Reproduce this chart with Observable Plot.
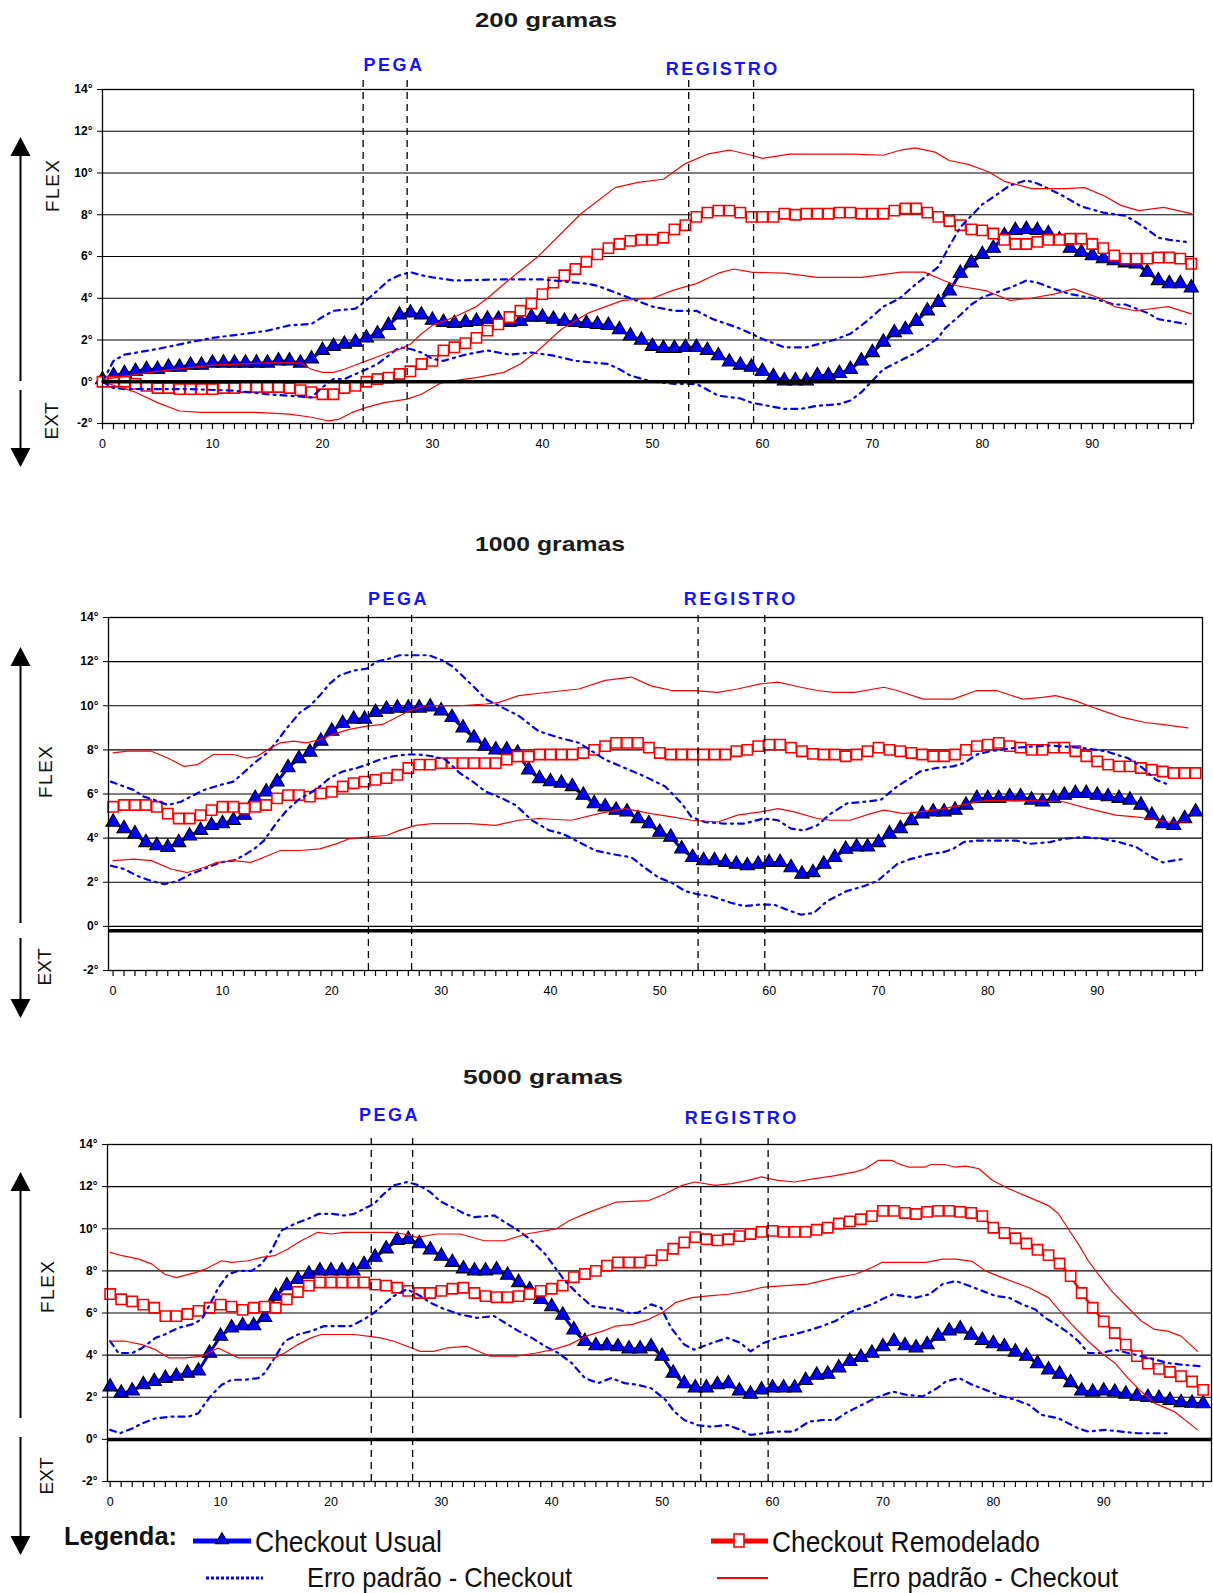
<!DOCTYPE html>
<html>
<head>
<meta charset="utf-8">
<script src="https://cdn.jsdelivr.net/npm/d3@7"></script>
<script src="https://cdn.jsdelivr.net/npm/@observablehq/plot@0.6"></script>
<style>
  html, body { margin: 0; padding: 0; background: #fff; }
  #wrap { position: relative; width: 1213px; height: 1593px; overflow: hidden; background: #fff;
          font-family: Arial, "Liberation Sans", sans-serif; }
  #wrap > svg { position: absolute; left: 0; }
</style>
</head>
<body>
<div id="wrap"></div>
<script>
// ---------------- DATA ----------------
const percentCycle = d3.range(0, 100);            // % do ciclo (categorias 0..99)
const yTicks = [-2, 0, 2, 4, 6, 8, 10, 12, 14];
const xLabelTicks = [0, 10, 20, 30, 40, 50, 60, 70, 80, 90];
const panelTitles = ["200 gramas", "1000 gramas", "5000 gramas"];
const eventNames = ["PEGA", "REGISTRO"];
const legendLabels = ["Checkout Usual", "Checkout Remodelado", "Erro padrão - Checkout", "Erro padrão - Checkout"];

// ---- 200 gramas ----
const usual200 = [0.1,0.3,0.4,0.5,0.6,0.6,0.7,0.7,0.8,0.8, 0.9,0.9,0.9,0.9,0.9,0.9,1.0,1.0,0.9,1.1,
  1.5,1.7,1.8,1.9,2.1,2.3,2.7,3.2,3.3,3.2, 2.95,2.85,2.8,2.85,2.9,3.0,3.0,2.85,2.9,3.1,
  3.1,3.0,2.9,2.85,2.8,2.75,2.7,2.5,2.2,2.0, 1.7,1.6,1.6,1.65,1.65,1.5,1.25,0.95,0.8,0.7,
  0.5,0.25,0.05,0.05,0.05,0.3,0.3,0.4,0.6,1.0, 1.4,1.9,2.35,2.5,2.9,3.4,3.8,4.35,5.2,5.7,
  6.1,6.4,7.0,7.25,7.3,7.25,7.1,6.8,6.4,6.2, 6.05,5.9,5.8,5.7,5.65,5.25,4.85,4.7,4.7,4.5];
const remod200 = [0.0,0.0,0.0,-0.1,-0.2,-0.3,-0.3,-0.35,-0.35,-0.35, -0.35,-0.3,-0.3,-0.25,-0.25,-0.25,-0.25,-0.3,-0.4,-0.5,
  -0.6,-0.6,-0.3,-0.2,0.0,0.13,0.2,0.37,0.5,0.85, 1.0,1.5,1.65,1.85,2.1,2.45,2.75,3.1,3.4,3.75,
  4.2,4.75,5.1,5.4,5.75,6.1,6.4,6.6,6.75,6.8, 6.8,6.9,7.3,7.5,7.9,8.1,8.2,8.2,8.1,7.9,
  7.9,7.9,8.05,8.0,8.05,8.05,8.05,8.1,8.1,8.05, 8.05,8.05,8.2,8.3,8.3,8.1,7.9,7.7,7.5,7.3,
  7.25,7.1,6.8,6.6,6.6,6.7,6.8,6.8,6.85,6.85, 6.6,6.4,6.05,5.9,5.9,5.9,5.95,5.95,5.9,5.65];
const usualHi200X = [0,1,2,5,8,10,13,15,17,19,20,21,23,24,25,26,27,28,29,30,32,36,40,44,45,47,48,50,52,54,55.5,57.7,59,60,62,64,66.5,68,69.5,71,72.5,74,76,77,78,80,81,82.5,84,85,87,88,89,91,93,94,95,96,97,98.5];
const usualHi200Y = [0,1.0,1.3,1.57,1.9,2.1,2.3,2.45,2.7,2.77,3.1,3.4,3.5,3.9,4.37,4.85,5.1,5.25,5.1,5.0,4.85,4.9,4.9,4.7,4.6,4.2,4.0,3.6,3.4,3.4,3.0,2.6,2.3,2.05,1.65,1.65,2.0,2.3,2.9,3.6,4.0,4.7,5.5,6.5,7.4,8.5,8.85,9.4,9.65,9.5,9.0,8.7,8.4,8.1,7.95,7.65,7.3,6.9,6.8,6.7];
const usualLo200X = [0,1,2,5,8,12,15,17,19,20,21,22,23,24,25,26,27,28,29,30,31,33,35,37,39,41,43,46,47,48,50,52,54,56,58,59,60.5,62,63.5,65,67,68,69,70,71,72.5,74,75,76,76.5,78,79,80,82.5,84,85,86.5,88,90,92,93,95,96,98.5];
const usualLo200Y = [0,-0.3,-0.35,-0.35,-0.35,-0.43,-0.6,-0.67,-0.75,-0.27,0.13,0.13,0.37,0.6,0.85,1.25,1.65,1.57,1.4,1.1,1.0,1.3,1.5,1.3,1.4,1.25,1.0,0.85,0.6,0.3,0.0,-0.1,-0.1,-0.67,-0.8,-1.0,-1.15,-1.3,-1.3,-1.15,-1.07,-0.9,-0.5,0.05,0.6,1.0,1.4,1.73,2.1,2.5,3.2,3.7,4.05,4.5,4.85,4.75,4.45,4.2,4.0,3.7,3.7,3.3,3.0,2.77];
const remodHi200X = [0,5,10,15,18,19,20,21,22,23,24,25,26,27,28,29,30,32,34,35,37,39.6,43.5,46.6,48.7,51,53,55,57,59,60,62.5,65,68.3,71,72.6,73.9,75.7,77,78.8,80.6,82,84.5,87.5,89.3,91.1,92.6,94.2,96.5,99];
const remodHi200Y = [0.1,0.5,0.8,0.9,0.9,0.6,0.45,0.45,0.6,0.8,1.0,1.2,1.4,1.55,1.8,2.3,2.7,3.1,3.6,4.0,4.9,6.0,8.05,9.3,9.55,9.7,10.45,10.9,11.1,10.85,10.7,10.9,10.9,10.9,10.85,11.1,11.2,11.0,10.6,10.4,10.05,9.6,9.25,9.25,9.3,8.9,8.45,8.2,8.35,8.05];
const remodLo200X = [0,3,5,7,9,14,17,19,20.5,21.5,22.7,24,25.6,27.7,29,30.8,32.6,34,36.5,38,39.6,41.7,44.2,47.3,50,52,54,56,57.4,59,62,65,69,72.6,74.7,76.5,77.7,80.4,82.5,84.4,86.5,88.3,90.7,92,93.9,96.9,99];
const remodLo200Y = [0,-0.5,-1.0,-1.4,-1.47,-1.47,-1.55,-1.7,-1.87,-1.8,-1.47,-1.23,-1.0,-0.83,-0.6,-0.05,0.1,0.2,0.45,0.85,1.5,2.5,3.3,3.9,4.0,4.4,4.7,5.2,5.4,5.25,5.2,5.0,5.0,5.25,5.25,4.85,4.6,4.35,3.9,4.0,4.2,4.45,4.0,3.6,3.4,3.6,3.25];
const events200 = [23.7, 27.7, 53.3, 59.2];

// ---- 1000 gramas ----
const usual1000 = [4.73,4.43,4.2,3.8,3.66,3.58,3.8,4.1,4.35,4.58, 4.66,4.81,5.04,5.8,6.1,6.55,7.2,7.6,7.9,8.4,
  8.85,9.2,9.4,9.4,9.7,9.85,9.9,9.9,9.9,9.95, 9.77,9.47,9.0,8.55,8.17,8.0,8.0,7.86,7.1,6.7,
  6.56,6.49,6.34,5.95,5.57,5.42,5.27,5.19,4.89,4.66, 4.27,4.05,3.51,3.13,2.98,2.98,2.9,2.82,2.75,2.82,
  2.9,2.9,2.67,2.37,2.44,2.82,3.13,3.5,3.6,3.6, 3.8,4.2,4.43,4.8,5.1,5.19,5.19,5.27,5.5,5.8,
  5.8,5.8,5.88,5.88,5.73,5.65,5.8,5.95,6.03,6.03, 5.95,5.88,5.8,5.73,5.5,5.04,4.66,4.58,4.89,5.19];
const remod1000 = [5.42,5.5,5.5,5.5,5.42,5.11,4.89,4.89,5.04,5.27, 5.42,5.42,5.34,5.42,5.5,5.8,5.95,5.95,5.88,6.03,
  6.1,6.34,6.49,6.56,6.64,6.72,6.87,7.18,7.33,7.33, 7.4,7.4,7.4,7.4,7.4,7.4,7.56,7.7,7.7,7.79,
  7.79,7.79,7.79,7.86,8.0,8.17,8.32,8.32,8.32,8.1, 7.86,7.79,7.79,7.79,7.79,7.79,7.79,7.94,8.0,8.17,
  8.24,8.24,8.1,7.94,7.82,7.79,7.79,7.71,7.79,7.94, 8.1,8.0,7.94,7.86,7.79,7.71,7.71,7.79,8.0,8.17,
  8.24,8.32,8.17,8.1,8.0,8.0,8.1,8.1,7.94,7.71, 7.48,7.33,7.25,7.25,7.18,7.1,7.02,6.95,6.95,6.95];
const usualHi1000X = [-0.2,1.0,1.9,2.8,3.8,5.0,6.2,7.1,8.3,9.8,11.0,11.9,12.9,14.1,15.0,15.9,17.1,18.0,18.9,19.8,20.7,22.0,23.2,24.1,25.3,26.2,27.7,28.9,30.1,31.1,32.9,34.1,35.6,37.1,38.9,40.8,42.6,43.8,45.0,46.8,48.6,50.5,52.0,52.9,54.1,55.9,57.7,59.5,60.8,62.0,63.2,64.4,65.6,67.1,68.7,70.2,71.7,72.9,73.8,75.3,76.8,77.8,79.0,80.2,82.6,85.6,88.7,89.9,90.8,91.7,92.8,94.1,95.4,96.6];
const usualHi1000Y = [6.56,6.34,6.18,5.88,5.73,5.5,5.65,5.88,6.18,6.41,6.56,6.95,7.4,7.86,8.4,9.0,9.7,10.0,10.46,11.0,11.37,11.6,11.68,12.0,12.14,12.29,12.29,12.29,12.06,11.76,10.9,10.3,9.92,9.54,8.85,8.55,8.32,7.94,7.56,7.18,6.8,6.34,5.57,4.96,4.73,4.66,4.66,4.89,4.81,4.43,4.35,4.58,5.1,5.57,5.65,5.73,6.34,6.72,7.02,7.18,7.25,7.4,7.79,7.94,8.1,8.2,8.09,8.0,7.94,7.79,7.63,7.2,6.64,6.41];
const usualLo1000X = [-0.2,1.0,2.2,3.5,4.7,5.9,7.1,8.3,9.8,11.0,11.9,12.9,13.8,15.0,15.9,17.1,18.0,18.9,19.8,21.0,22.3,23.2,24.4,25.6,26.8,28.0,29.2,30.4,31.7,32.9,34.1,35.6,36.8,38.3,39.9,41.1,42.6,44.1,45.6,47.4,48.6,49.9,51.1,52.3,53.5,54.7,56.5,57.7,59.2,60.4,61.6,62.9,64.1,65.3,65.9,67.1,68.7,69.9,70.8,71.7,72.9,74.7,75.9,76.8,77.8,79.0,80.8,82.6,83.8,85.7,86.9,88.7,90.5,92.0,93.6,94.8,96.0,97.8];
const usualLo1000Y = [2.75,2.6,2.29,2.06,1.91,2.06,2.37,2.6,2.9,2.98,3.2,3.51,3.89,4.73,5.27,5.8,6.03,6.34,6.72,7.02,7.18,7.33,7.56,7.71,7.79,7.79,7.71,7.56,6.95,6.56,6.1,5.8,5.5,4.81,4.35,4.2,3.82,3.44,3.28,3.13,2.67,2.21,1.98,1.6,1.45,1.37,1.07,0.92,0.99,0.99,0.76,0.53,0.61,1.15,1.3,1.6,1.83,2.06,2.44,2.82,3.05,3.28,3.36,3.51,3.82,3.89,3.89,3.89,3.74,3.82,3.97,4.05,3.97,3.82,3.59,3.2,2.9,3.05];
const remodHi1000X = [0.0,1.3,3.5,5.0,6.5,7.7,9.2,11.0,12.2,13.2,14.1,15.3,16.5,17.7,18.9,20.1,21.6,23.2,24.7,25.9,27.1,28.6,31.6,34.1,35.3,37.1,39.6,42.6,45.0,47.4,49.2,51.1,53.2,55.3,57.1,59.2,60.8,62.9,64.4,65.9,67.8,70.5,71.7,74.1,76.8,79.0,80.8,83.2,85.0,86.2,88.0,89.2,91.0,92.3,94.4,95.9,98.3];
const remodHi1000Y = [7.86,7.94,7.94,7.63,7.25,7.33,7.79,7.79,7.63,7.71,8.0,8.32,8.4,8.32,8.47,8.7,8.93,9.08,9.16,9.47,9.77,10.0,10.0,10.08,10.15,10.46,10.6,10.76,11.15,11.3,10.9,10.69,10.69,10.61,10.76,10.99,11.07,10.84,10.69,10.61,10.61,10.84,10.69,10.3,10.3,10.69,10.69,10.3,10.38,10.46,10.23,10.0,9.69,9.47,9.24,9.16,9.0];
const remodLo1000X = [0.0,1.9,3.5,5.3,6.8,8.3,9.5,11.0,12.6,13.8,15.3,17.1,18.9,20.4,21.6,23.2,25.0,26.2,27.7,29.2,32.6,35.0,37.1,38.9,41.9,44.4,46.8,49.2,51.1,52.9,55.3,57.1,59.2,60.8,62.3,64.4,65.6,67.4,69.3,70.5,72.3,75.6,79.6,83.6,86.9,89.2,91.7,93.5,94.7,96.5,98.3];
const remodLo1000Y = [2.98,3.05,2.98,2.6,2.44,2.67,2.9,2.98,2.9,3.13,3.44,3.44,3.51,3.74,3.97,4.05,4.12,4.35,4.58,4.66,4.66,4.58,4.81,4.89,4.81,5.11,5.34,5.11,4.96,4.81,4.73,5.04,5.19,5.34,5.19,4.89,4.81,4.81,5.11,5.27,5.11,5.3,5.7,5.7,5.65,5.34,5.04,4.96,4.89,4.73,4.73];
const events1000 = [23.35, 27.3, 53.5, 59.6];

// ---- 5000 gramas ----
const usual5000 = [2.5,2.2,2.3,2.6,2.75,2.9,3.0,3.15,3.25,4.1, 4.9,5.3,5.4,5.4,5.8,6.8,7.3,7.6,7.85,8.0,
  8.0,8.0,8.0,8.3,8.65,9.05,9.45,9.5,9.3,9.0, 8.7,8.4,8.1,8.0,8.0,8.05,7.8,7.45,7.1,6.65,
  6.3,5.9,5.2,4.65,4.45,4.45,4.4,4.3,4.3,4.4, 3.95,3.15,2.65,2.45,2.45,2.6,2.65,2.3,2.15,2.35,
  2.45,2.45,2.45,2.8,3.05,3.1,3.4,3.7,3.9,4.1, 4.4,4.65,4.45,4.35,4.5,4.9,5.15,5.25,4.95,4.7,
  4.55,4.4,4.15,3.95,3.6,3.3,3.1,2.7,2.3,2.25, 2.3,2.25,2.15,2.05,2.0,1.95,1.85,1.75,1.72,1.7];
const remod5000 = [6.9,6.65,6.55,6.4,6.25,5.85,5.85,5.95,6.1,6.25, 6.4,6.3,6.15,6.25,6.3,6.25,6.65,7.0,7.3,7.45,
  7.45,7.45,7.45,7.45,7.35,7.3,7.2,7.05,6.95,6.95, 7.05,7.15,7.2,6.95,6.8,6.75,6.75,6.8,6.9,7.05,
  7.15,7.3,7.7,7.85,8.0,8.25,8.4,8.4,8.4,8.5, 8.75,9.05,9.35,9.6,9.5,9.45,9.5,9.65,9.75,9.85,
  9.9,9.85,9.85,9.85,9.95,10.05,10.25,10.35,10.45,10.6, 10.85,10.85,10.75,10.7,10.8,10.85,10.85,10.8,10.75,10.6,
  10.05,9.8,9.55,9.3,9.0,8.75,8.35,7.75,6.95,6.25, 5.6,5.05,4.5,3.95,3.6,3.35,3.2,3.0,2.75,2.35];
const usualHi5000X = [0,0.75,2,2.9,4.1,4.95,6.2,7.4,8.3,9.2,9.8,10.7,11.6,12.8,13.7,14.6,15.5,16.7,17.9,18.9,20,21.2,22.1,23,23.9,24.8,25.7,26.9,28,29,29.9,31,32.1,33,34.8,36,37,38.2,39.4,40.3,41.2,42.4,43.6,44.8,46,46.9,47.8,49,49.9,50.8,52,52.9,54.1,55.9,57.1,58,59.2,60.4,61.9,63.3,64.5,65.7,66.9,68.1,69,69.9,70.9,71.8,73,74.2,75.4,76.6,77.8,79,80.2,81.4,82.6,83.8,84.7,85.9,86.8,87.7,88.6,89.8,91,92.2,93.4,94.6,95.8,97,98.8];
const usualHi5000Y = [4.66,4.1,4.1,4.34,4.82,4.98,5.3,5.46,5.7,6.57,7.2,7.84,8.0,8.0,8.32,8.95,9.91,10.23,10.47,10.71,10.71,10.63,10.71,10.95,11.18,11.66,12.06,12.22,12.06,11.74,11.3,11.02,10.71,10.55,10.63,10.23,9.91,9.43,8.8,8.16,7.52,6.89,6.33,6.25,6.17,6.01,6.01,6.41,6.25,5.3,4.5,4.26,4.5,4.82,4.58,4.18,4.58,4.82,4.98,5.18,5.38,5.62,6.01,6.25,6.41,6.65,6.89,6.81,6.73,6.89,7.37,7.52,7.29,7.05,6.81,6.73,6.41,6.17,5.77,5.38,5.06,4.66,4.1,4.1,4.26,4.1,3.95,3.79,3.63,3.55,3.47];
const usualLo5000X = [0,0.9,2,2.9,4.1,5.6,7.1,8,8.4,9.2,10.1,11,12.2,13.4,14,14.9,15.8,17,18.2,19.4,20.6,21.8,23,23.9,24.8,25.7,26.9,28.1,29,30.2,31.7,33.2,34.8,36,37,38.2,39.4,40.6,41.8,43,44.2,45.4,46.6,47.8,49,50.3,51.1,52,53.2,54.4,55.9,57.1,58,59.2,60.4,61.9,63.3,64.5,65.7,66.6,67.8,69.3,70.9,72.1,73.6,74.9,75.7,76.9,78.1,79.3,80.8,82,83.2,84.4,85.9,86.8,87.7,88.6,90.1,91.6,93.1,94.6,96];
const usualLo5000Y = [0.45,0.29,0.52,0.76,1.0,1.08,1.08,1.24,1.56,2.12,2.59,2.83,2.83,2.91,3.15,3.87,4.66,4.98,5.14,5.38,5.38,5.38,5.7,6.01,6.41,6.81,7.13,6.81,6.49,6.2,5.93,5.77,5.85,5.46,5.14,4.82,4.42,4.1,3.63,2.91,2.67,2.91,2.67,2.59,2.43,1.88,1.32,0.92,0.68,0.6,0.68,0.45,0.21,0.29,0.37,0.37,0.84,0.92,0.92,1.24,1.56,1.96,2.27,2.12,2.04,2.43,2.75,2.91,2.59,2.35,2.04,1.88,1.64,1.16,1.0,0.76,0.52,0.37,0.45,0.37,0.29,0.29,0.29];
const remodHi5000X = [0,1.1,2.6,3.8,4.95,6,7.7,8.6,10.1,11,12.5,13.7,14.9,16.1,17.3,18.8,20,21.2,23,25.4,26.6,27.8,29.6,31.7,33.9,35.7,37.7,40.4,41.6,43.4,45.8,48.8,50.3,51.8,53,54.8,56.3,57.8,59,60.5,62,63.8,65.4,67.5,68.4,69.6,70.8,71.4,72.3,73.8,74.4,75.6,76.5,77.5,78.7,79.9,81.4,83.2,85,85.9,86.8,87.7,88.6,89.5,90.7,92.2,93.4,94.6,95.8,97,98.5];
const remodHi5000Y = [8.88,8.72,8.56,8.32,7.84,7.68,7.92,8.08,8.48,8.4,8.48,8.64,8.72,9.04,9.43,9.83,9.75,9.83,9.83,9.83,9.75,9.59,9.75,9.75,9.43,9.43,9.75,9.99,10.39,10.79,11.26,11.34,11.66,12.06,12.22,12.06,12.14,12.3,12.46,12.3,12.22,12.38,12.5,12.7,12.85,13.25,13.25,13.09,12.93,12.93,13.05,13.05,12.93,12.97,12.85,12.3,11.9,11.5,11.1,10.71,9.99,9.27,8.48,7.84,7.05,6.25,5.62,5.22,5.14,4.9,4.18];
const remodLo5000X = [0,1.4,2.9,4.1,5.3,6.8,8.3,9.8,10.7,11.6,13.4,14.9,15.8,17,18.2,19.1,20.6,22.1,23.3,24.5,25.7,26.9,28.1,29.3,30.5,32.3,34.4,36.8,38.6,40.1,41.6,43.1,44.6,45.8,47.3,48.8,50,51.2,52.7,54.2,56,57.8,59,60.8,63.2,65.7,67.5,69,69.9,72.1,73.9,75.4,76.6,78.1,79.3,80.8,83.2,85,85.9,87.1,88.6,89.8,91,92.2,93.4,94.6,96.4,98.5];
const remodLo5000Y = [4.66,4.66,4.5,4.26,3.87,3.87,3.95,4.34,4.1,3.87,3.87,3.87,4.1,4.5,4.82,4.98,4.98,4.98,4.9,4.82,4.66,4.42,4.18,4.18,4.34,4.42,3.95,3.95,4.1,4.26,4.5,4.9,5.14,5.38,5.46,5.7,6.01,6.49,6.73,6.81,6.89,7.05,7.21,7.29,7.37,7.68,7.84,8.16,8.4,8.4,8.4,8.56,8.56,8.45,8.0,7.68,7.21,6.73,6.17,5.46,4.66,4.1,3.63,2.91,2.27,1.72,1.32,0.45];
const events5000 = [23.65, 27.4, 53.5, 59.6];

// baseline (linha 0° espessa) por painel
const baselines = [0, -0.2, 0];

// ---------------- LAYOUT (positions / styles) ----------------
const layouts = [
  {top: 0,    height: 473, mt: 89,  mb: 50, ml: 102, mr: 20, xDomain: [0, 99.2],       vTop: 14.5,
   labelPos: [[26.5, 15.15], [56.4, 14.96]]},
  {top: 520,  height: 500, mt: 97,  mb: 50, ml: 108, mr: 11, xDomain: [-0.42, 99.63],  vTop: 14.1,
   labelPos: [[26.1, 14.84], [57.4, 14.84]]},
  {top: 1040, height: 481, mt: 104, mb: 40, ml: 107, mr: 2,  xDomain: [-0.24, 99.76],  vTop: 14.35,
   labelPos: [[25.3, 15.38], [57.2, 15.23]]}
];

const BLUE = "#0000ff", RED = "#ff0000";
const FONT = "Arial, 'Liberation Sans', sans-serif";

const panelData = [
  {usual: usual200, remod: remod200,
   uHi: d3.zip(usualHi200X, usualHi200Y), uLo: d3.zip(usualLo200X, usualLo200Y),
   rHi: d3.zip(remodHi200X, remodHi200Y), rLo: d3.zip(remodLo200X, remodLo200Y), events: events200},
  {usual: usual1000, remod: remod1000,
   uHi: d3.zip(usualHi1000X, usualHi1000Y), uLo: d3.zip(usualLo1000X, usualLo1000Y),
   rHi: d3.zip(remodHi1000X, remodHi1000Y), rLo: d3.zip(remodLo1000X, remodLo1000Y), events: events1000},
  {usual: usual5000, remod: remod5000,
   uHi: d3.zip(usualHi5000X, usualHi5000Y), uLo: d3.zip(usualLo5000X, usualLo5000Y),
   rHi: d3.zip(remodHi5000X, remodHi5000Y), rLo: d3.zip(remodLo5000X, remodLo5000Y), events: events5000}
];

const wrap = document.getElementById("wrap");

panelData.forEach((pd, k) => {
  const L = layouts[k];
  const usualRows = percentCycle.map((p, i) => ({p, v: pd.usual[i]}));
  const remodRows = percentCycle.map((p, i) => ({p, v: pd.remod[i]}));
  const labelRows = eventNames.map((t, i) => ({t, x: L.labelPos[i][0], y: L.labelPos[i][1]}));
  const px = d => d[0], py = d => d[1];

  const plot = Plot.plot({
    width: 1213, height: L.height,
    marginTop: L.mt, marginBottom: L.mb, marginLeft: L.ml, marginRight: L.mr,
    style: {background: "transparent", fontFamily: FONT, fontSize: "12px", color: "#000", overflow: "visible"},
    x: {domain: L.xDomain, label: null},
    y: {domain: [-2, 14], label: null},
    marks: [
      Plot.ruleY(yTicks, {stroke: "#000", strokeWidth: 1.2}),
      Plot.axisY({ticks: yTicks, tickSize: 5, tickPadding: 5, tickFormat: d => `${d}°`, label: null, fontSize: 12, fontWeight: "bold"}),
      Plot.axisX({ticks: percentCycle, tickSize: 6, tickFormat: () => "", label: null, strokeWidth: 1.2}),
      Plot.axisX({ticks: xLabelTicks, tickSize: 0, tickPadding: 16, tickFormat: d => String(d), label: null, fontSize: 12.5}),
      // Checkout Usual
      Plot.line(usualRows, {x: "p", y: "v", stroke: "#0000cc", strokeWidth: 3}),
      Plot.dot(usualRows, {x: "p", y: "v", symbol: "triangle", r: 5.3, fill: BLUE, stroke: "#000", strokeWidth: 1.1}),
      // Checkout Remodelado
      Plot.line(remodRows, {x: "p", y: "v", stroke: RED, strokeWidth: 2.5}),
      Plot.dot(remodRows, {x: "p", y: "v", symbol: "square", r: 5.8, fill: "#fff", stroke: RED, strokeWidth: 1.6}),
      // Erro padrão
      Plot.line(pd.uHi, {x: px, y: py, stroke: BLUE, strokeWidth: 2.2, strokeDasharray: "6,5,2,5"}),
      Plot.line(pd.uLo, {x: px, y: py, stroke: BLUE, strokeWidth: 2.2, strokeDasharray: "6,5,2,5"}),
      Plot.line(pd.rHi, {x: px, y: py, stroke: RED, strokeWidth: 1.2}),
      Plot.line(pd.rLo, {x: px, y: py, stroke: RED, strokeWidth: 1.2}),
      // linha 0° espessa
      Plot.ruleY([baselines[k]], {stroke: "#000", strokeWidth: 3.5}),
      Plot.frame({stroke: "#000", strokeWidth: 1.3}),
      // fases PEGA / REGISTRO
      Plot.ruleX(pd.events, {y1: -2, y2: L.vTop, stroke: "#000", strokeWidth: 1.3, strokeDasharray: "7,5"}),
      Plot.text(labelRows, {x: "x", y: "y", text: "t", fill: "#1414ff", fontWeight: "bold", fontSize: 18,
                            fontFamily: FONT, className: "evlabel"})
    ]
  });
  plot.style.top = L.top + "px";
  d3.select(plot).selectAll(".evlabel text").attr("letter-spacing", "2.5px");
  wrap.appendChild(plot);
});

// ---------------- overlay: titles, FLEX/EXT arrows, legend ----------------
const ov = d3.select(wrap).append("svg")
  .attr("width", 1213).attr("height", 1593).style("top", "0px").style("pointer-events", "none");

const titlePos = [[546, 27, 142], [550, 551, 150], [543, 1084, 160]];
panelTitles.forEach((t, i) => {
  ov.append("text").attr("x", titlePos[i][0]).attr("y", titlePos[i][1])
    .attr("text-anchor", "middle").attr("font-family", FONT).attr("font-weight", "bold")
    .attr("font-size", 21).attr("fill", "#1a1a1a")
    .attr("textLength", titlePos[i][2]).attr("lengthAdjust", "spacingAndGlyphs").text(t);
});

const arrowX = 20.5;
const arrowSpecs = [
  {upFrom: 381, upTip: 137, downFrom: 390, downTip: 467, flexY: 186, extY: 421},
  {upFrom: 923, upTip: 647, downFrom: 938, downTip: 1018, flexY: 772, extY: 967},
  {upFrom: 1418, upTip: 1172, downFrom: 1437, downTip: 1555, flexY: 1287, extY: 1476}
];
const flexX = [52, 45, 47];
arrowSpecs.forEach((a, i) => {
  ov.append("line").attr("x1", arrowX).attr("x2", arrowX).attr("y1", a.upFrom).attr("y2", a.upTip + 12)
    .attr("stroke", "#000").attr("stroke-width", 2);
  ov.append("polygon").attr("points", `${arrowX},${a.upTip} ${arrowX - 10},${a.upTip + 19} ${arrowX + 10},${a.upTip + 19}`).attr("fill", "#000");
  ov.append("line").attr("x1", arrowX).attr("x2", arrowX).attr("y1", a.downFrom).attr("y2", a.downTip - 12)
    .attr("stroke", "#000").attr("stroke-width", 2);
  ov.append("polygon").attr("points", `${arrowX},${a.downTip} ${arrowX - 10},${a.downTip - 19} ${arrowX + 10},${a.downTip - 19}`).attr("fill", "#000");
  ov.append("text").attr("transform", `translate(${flexX[i]},${a.flexY}) rotate(-90)`)
    .attr("text-anchor", "middle").attr("dominant-baseline", "central")
    .attr("font-family", FONT).attr("font-size", 19).attr("fill", "#111")
    .attr("textLength", 52).attr("lengthAdjust", "spacing").text("FLEX");
  ov.append("text").attr("transform", `translate(${flexX[i] - 1},${a.extY}) rotate(-90)`)
    .attr("text-anchor", "middle").attr("dominant-baseline", "central")
    .attr("font-family", FONT).attr("font-size", 19).attr("fill", "#111")
    .attr("textLength", 37).attr("lengthAdjust", "spacing").text("EXT");
});

// legend
const lg = ov.append("g");
lg.append("text").attr("x", 64).attr("y", 1545).attr("font-family", FONT).attr("font-weight", "bold")
  .attr("font-size", 25).attr("fill", "#111").attr("textLength", 113).attr("lengthAdjust", "spacingAndGlyphs").text("Legenda:");
// Checkout Usual
lg.append("line").attr("x1", 193).attr("x2", 251).attr("y1", 1541).attr("y2", 1541).attr("stroke", BLUE).attr("stroke-width", 5);
lg.append("path").attr("transform", "translate(222,1540)").attr("d", d3.symbol(d3.symbolTriangle, 70)())
  .attr("fill", BLUE).attr("stroke", "#000").attr("stroke-width", 1.1);
lg.append("text").attr("x", 255).attr("y", 1552).attr("font-family", FONT).attr("font-size", 30).attr("fill", "#111")
  .attr("textLength", 187).attr("lengthAdjust", "spacingAndGlyphs").text(legendLabels[0]);
// Checkout Remodelado
lg.append("line").attr("x1", 711).attr("x2", 768).attr("y1", 1541).attr("y2", 1541).attr("stroke", RED).attr("stroke-width", 5);
lg.append("rect").attr("x", 734).attr("y", 1534).attr("width", 10).attr("height", 13).attr("fill", "#fff").attr("stroke", RED).attr("stroke-width", 1.6);
lg.append("text").attr("x", 772).attr("y", 1552).attr("font-family", FONT).attr("font-size", 30).attr("fill", "#111")
  .attr("textLength", 268).attr("lengthAdjust", "spacingAndGlyphs").text(legendLabels[1]);
// Erro padrão (azul)
lg.append("line").attr("x1", 206).attr("x2", 263).attr("y1", 1578).attr("y2", 1578).attr("stroke", BLUE)
  .attr("stroke-width", 3).attr("stroke-dasharray", "3,2");
lg.append("text").attr("x", 307).attr("y", 1587).attr("font-family", FONT).attr("font-size", 28).attr("fill", "#111")
  .attr("textLength", 265).attr("lengthAdjust", "spacingAndGlyphs").text(legendLabels[2]);
// Erro padrão (vermelho)
lg.append("line").attr("x1", 717).attr("x2", 768).attr("y1", 1578).attr("y2", 1578).attr("stroke", RED).attr("stroke-width", 2);
lg.append("text").attr("x", 852).attr("y", 1587).attr("font-family", FONT).attr("font-size", 28).attr("fill", "#111")
  .attr("textLength", 266).attr("lengthAdjust", "spacingAndGlyphs").text(legendLabels[3]);
</script>
</body>
</html>
